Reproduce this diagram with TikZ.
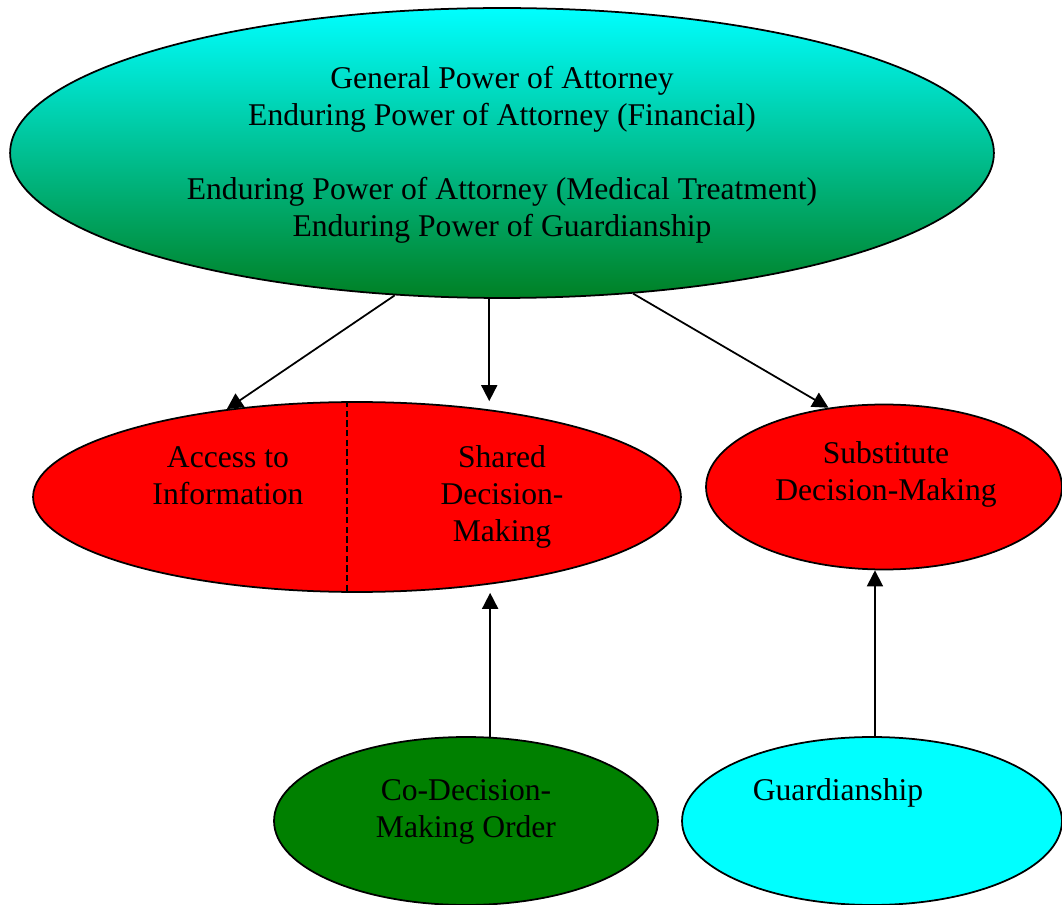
\documentclass[tikz,border=0pt]{standalone}
\usepackage{fontspec}
\setmainfont{Liberation Serif}
\usetikzlibrary{shapes.geometric,arrows.meta}
\definecolor{pred}{HTML}{FF0000}
\definecolor{pcyan}{HTML}{00FFFF}
\definecolor{pgreen}{HTML}{008000}
\definecolor{pdeep}{HTML}{008024}

\begin{document}
\begin{tikzpicture}[x=0.02cm,y=-0.02cm,
  bubble/.style={ellipse,draw=black,line width=1pt,inner sep=0pt},
  txt/.style={align=center,inner sep=0pt,font=\fontsize{18}{21}\selectfont},
  arr/.style={-{Triangle[length=0.32cm,width=0.32cm]},line width=1pt}]
\useasboundingbox (0,0) rectangle (1062,905);
% the ellipses
\node[bubble,minimum width=19.68cm,minimum height=5.8cm,top color=pcyan,bottom color=pdeep] (powers) at (502,153) {};
\node[bubble,fill=pred,minimum width=12.96cm,minimum height=3.8cm] (share) at (357,497) {};
\node[bubble,fill=pred,minimum width=7.12cm,minimum height=3.3cm] (subst) at (884,487) {};
\node[bubble,fill=pgreen,minimum width=7.68cm,minimum height=3.36cm] (codm) at (466,821) {};
\node[bubble,fill=pcyan,minimum width=7.6cm,minimum height=3.36cm] (guard) at (872,821) {};
\draw[dash pattern=on 3.5pt off 2pt,line width=1pt] ([xshift=-0.2cm]share.north) -- ([xshift=-0.2cm]share.south);
% the texts
\node[txt] (powerstext) at (502,155) {General Power of Attorney\\Enduring Power of Attorney (Financial)\\[21pt]Enduring Power of Attorney (Medical Treatment)\\Enduring Power of Guardianship};
\node[txt] (access) at (228,476) {Access to\\Information};
\node[txt] (shared) at (502,497) {Shared\\Decision-\\Making};
\node[txt] (substtext) at (886,474) {Substitute\\Decision-Making};
\node[txt] (codmtext) at (466,812) {Co-Decision-\\Making Order};
\node[txt] (guardtext) at (838,793) {Guardianship};
% the arrows
\draw[arr] (powers.233) -- (share.146);
\draw[arr] (powers.265) -- (powers.265 |- share.north);
\draw[arr] (powers.313) -- (subst.125);
\draw[arr] (codm.74) -- (codm.74 |- share.south);
\draw[arr] (guard.88) -- (guard.88 |- subst.south);
\end{tikzpicture}
\end{document}
